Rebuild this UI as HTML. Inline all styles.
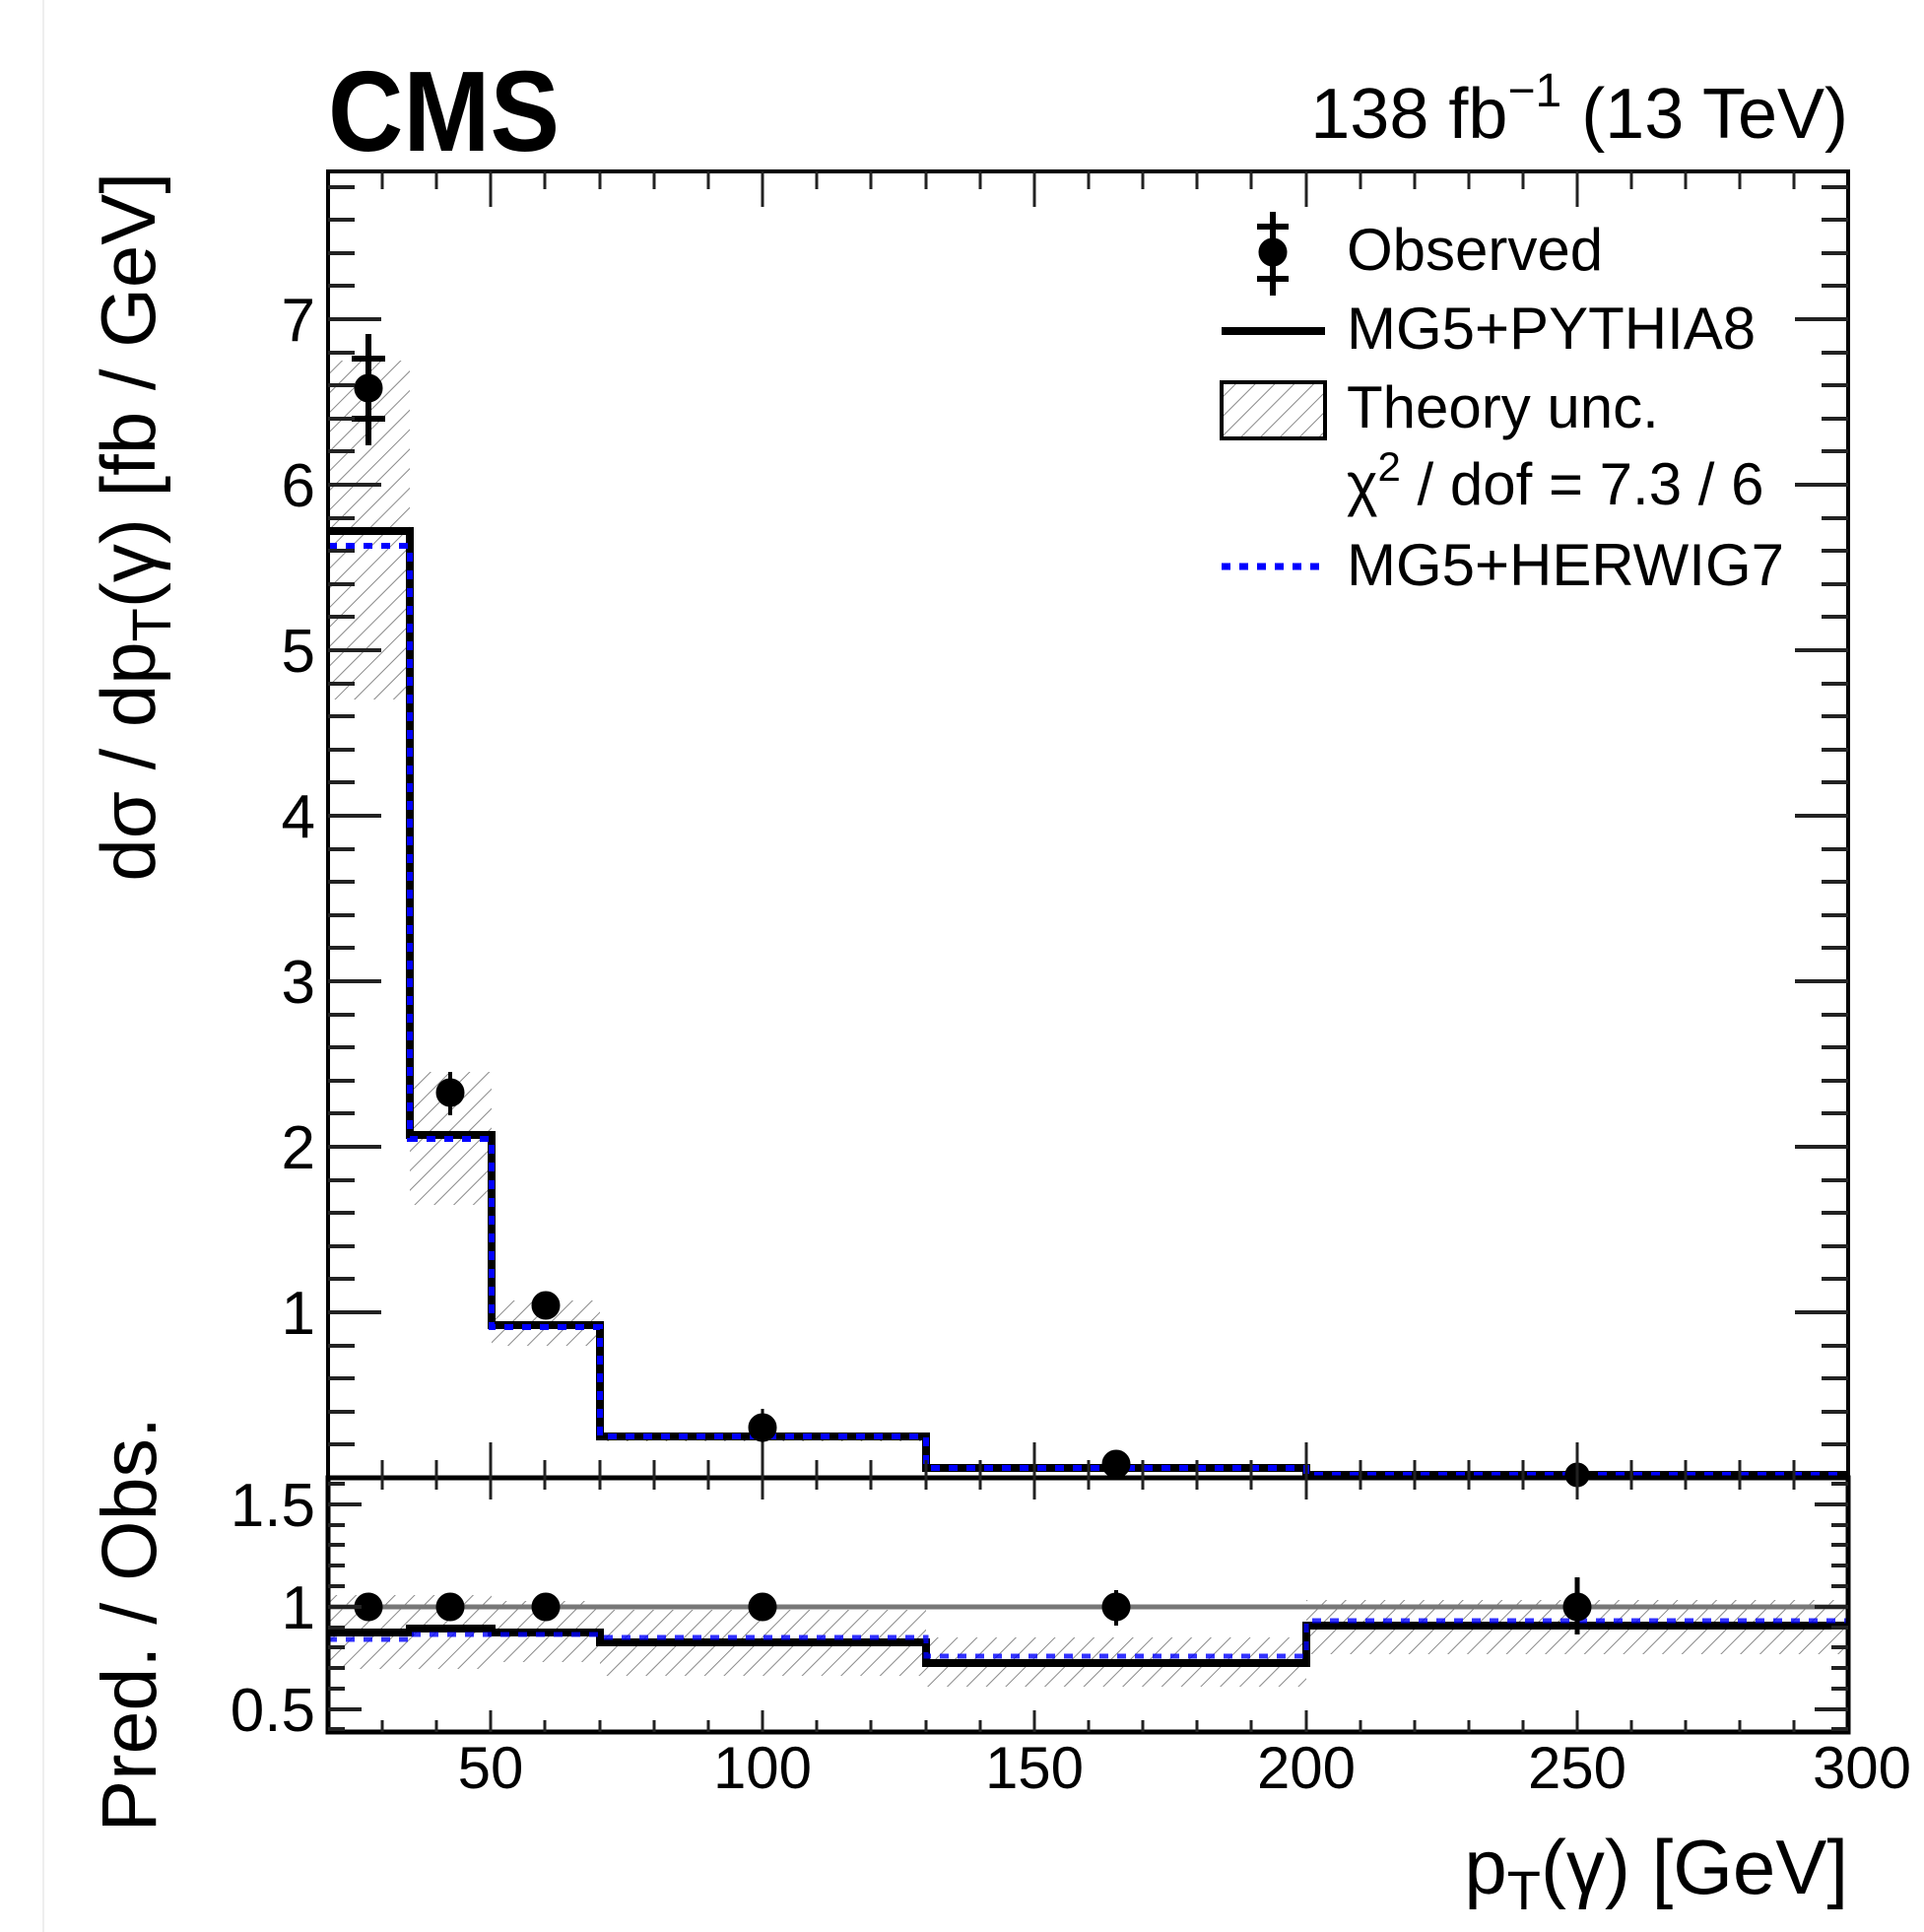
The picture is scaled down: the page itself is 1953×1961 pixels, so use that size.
<!DOCTYPE html>
<html><head><meta charset="utf-8"><style>html,body{margin:0;padding:0;background:#fff}svg{display:block}</style></head>
<body>
<svg width="1953" height="1961" viewBox="0 0 1953 1961" xmlns="http://www.w3.org/2000/svg" font-family="Liberation Sans, Arial, sans-serif">
<defs>
<pattern id="h" patternUnits="userSpaceOnUse" width="14" height="14" patternTransform="rotate(45)">
<line x1="0" y1="0" x2="0" y2="14" stroke="#8a8a8a" stroke-width="2"/>
</pattern>
</defs>
<rect width="1953" height="1961" fill="#fff"/>
<line x1="44" y1="0" x2="44" y2="1961" stroke="#eee" stroke-width="2"/>

<!-- Upper panel: x px = 333 + (x-20)*5.511 ; y px = 1500 - 168*v -->
<!-- theory bands -->
<g fill="url(#h)">
<rect x="333" y="366" width="83" height="344"/>
<rect x="416" y="1088" width="83" height="135"/>
<rect x="499" y="1320" width="110" height="46"/>
<rect x="609" y="1454" width="331" height="9"/>
<rect x="940" y="1488" width="386" height="4"/>
<!-- lower -->
<rect x="333" y="1619" width="166" height="75"/>
<rect x="499" y="1625" width="110" height="62"/>
<rect x="609" y="1634" width="331" height="67"/>
<rect x="940" y="1662" width="386" height="50"/>
<rect x="1326" y="1624" width="550" height="55"/>
</g>

<!-- Pythia upper -->
<path d="M333,539 H416 V1152 H499 V1345 H609 V1458 H940 V1490 H1326 V1497 H1876" fill="none" stroke="#000" stroke-width="8"/>
<path d="M333,554 H416 V1156 H499 V1347 H609 V1458 H940 V1490 H1326 V1497 H1876" fill="none" stroke="#0000ff" stroke-width="6" stroke-dasharray="9,9"/>

<!-- data upper -->
<g fill="#000" stroke="#000">
<line x1="374" y1="339" x2="374" y2="452" stroke-width="6"/>
<line x1="357" y1="364" x2="391" y2="364" stroke-width="6"/>
<line x1="357" y1="425" x2="391" y2="425" stroke-width="6"/>
<circle cx="374" cy="394" r="14"/>
<line x1="457" y1="1088" x2="457" y2="1132" stroke-width="4"/>
<circle cx="457" cy="1109" r="14"/>
<circle cx="554" cy="1325" r="14"/>
<line x1="774" y1="1430" x2="774" y2="1464" stroke-width="3"/>
<circle cx="774" cy="1449" r="14"/>
<circle cx="1133" cy="1486" r="14"/>
<line x1="1601" y1="1480" x2="1601" y2="1500" stroke-width="3"/>
<circle cx="1601" cy="1497" r="12"/>
</g>

<!-- lower panel lines -->
<line x1="333" y1="1631" x2="1876" y2="1631" stroke="#777" stroke-width="5"/>
<path d="M333,1657 H416 V1653 H499 V1657 H609 V1667 H940 V1688 H1326 V1650 H1876" fill="none" stroke="#000" stroke-width="8"/>
<path d="M333,1664 H416 V1659 H499 V1659 H609 V1662 H940 V1681 H1326 V1645 H1876" fill="none" stroke="#0000ff" stroke-width="5" stroke-dasharray="9,9" opacity="0.8"/>
<g fill="#000" stroke="#000">
<circle cx="374" cy="1631" r="14"/>
<circle cx="457" cy="1631" r="14"/>
<circle cx="554" cy="1631" r="14"/>
<circle cx="774" cy="1631" r="14"/>
<line x1="1133" y1="1614" x2="1133" y2="1650" stroke-width="4"/>
<circle cx="1133" cy="1631" r="14"/>
<line x1="1601" y1="1601" x2="1601" y2="1659" stroke-width="5"/>
<circle cx="1601" cy="1631" r="14"/>
</g>

<!-- frames -->
<rect x="333" y="174" width="1543" height="1326" fill="none" stroke="#000" stroke-width="4"/>
<rect x="333" y="1500" width="1543" height="258" fill="none" stroke="#000" stroke-width="5"/>

<!-- x ticks -->
<g stroke="#222" stroke-width="3">
<path d="M388,174v18M443,174v18M498,174v36M553,174v18M609,174v18M664,174v18M719,174v18M774,174v36M829,174v18M884,174v18M940,174v18M995,174v18M1050,174v36M1105,174v18M1160,174v18M1215,174v18M1270,174v18M1326,174v36M1381,174v18M1436,174v18M1491,174v18M1546,174v18M1601,174v36M1656,174v18M1711,174v18M1766,174v18M1821,174v18"/>
<path d="M388,1500v-18M443,1500v-18M498,1500v-36M553,1500v-18M609,1500v-18M664,1500v-18M719,1500v-18M774,1500v-36M829,1500v-18M884,1500v-18M940,1500v-18M995,1500v-18M1050,1500v-36M1105,1500v-18M1160,1500v-18M1215,1500v-18M1270,1500v-18M1326,1500v-36M1381,1500v-18M1436,1500v-18M1491,1500v-18M1546,1500v-18M1601,1500v-36M1656,1500v-18M1711,1500v-18M1766,1500v-18M1821,1500v-18"/>
<path d="M388,1500v12M443,1500v12M498,1500v22M553,1500v12M609,1500v12M664,1500v12M719,1500v12M774,1500v22M829,1500v12M884,1500v12M940,1500v12M995,1500v12M1050,1500v22M1105,1500v12M1160,1500v12M1215,1500v12M1270,1500v12M1326,1500v22M1381,1500v12M1436,1500v12M1491,1500v12M1546,1500v12M1601,1500v22M1656,1500v12M1711,1500v12M1766,1500v12M1821,1500v12"/>
<path d="M388,1758v-12M443,1758v-12M498,1758v-22M553,1758v-12M609,1758v-12M664,1758v-12M719,1758v-12M774,1758v-22M829,1758v-12M884,1758v-12M940,1758v-12M995,1758v-12M1050,1758v-22M1105,1758v-12M1160,1758v-12M1215,1758v-12M1270,1758v-12M1326,1758v-22M1381,1758v-12M1436,1758v-12M1491,1758v-12M1546,1758v-12M1601,1758v-22M1656,1758v-12M1711,1758v-12M1766,1758v-12M1821,1758v-12"/>
</g>
<!-- y ticks upper: 0.2 step = 33.6px -->
<g stroke="#222" stroke-width="4" id="yt">
<path d="M333,1466h27M333,1433h27M333,1399h27M333,1366h27M333,1332h54M333,1298h27M333,1265h27M333,1231h27M333,1198h27M333,1164h54M333,1130h27M333,1097h27M333,1063h27M333,1030h27M333,996h54M333,962h27M333,929h27M333,895h27M333,862h27M333,828h54M333,794h27M333,761h27M333,727h27M333,694h27M333,660h54M333,626h27M333,593h27M333,559h27M333,526h27M333,492h54M333,458h27M333,425h27M333,391h27M333,358h27M333,324h54M333,290h27M333,257h27M333,223h27M333,190h27"/>
<path d="M1876,1466h-27M1876,1433h-27M1876,1399h-27M1876,1366h-27M1876,1332h-54M1876,1298h-27M1876,1265h-27M1876,1231h-27M1876,1198h-27M1876,1164h-54M1876,1130h-27M1876,1097h-27M1876,1063h-27M1876,1030h-27M1876,996h-54M1876,962h-27M1876,929h-27M1876,895h-27M1876,862h-27M1876,828h-54M1876,794h-27M1876,761h-27M1876,727h-27M1876,694h-27M1876,660h-54M1876,626h-27M1876,593h-27M1876,559h-27M1876,526h-27M1876,492h-54M1876,458h-27M1876,425h-27M1876,391h-27M1876,358h-27M1876,324h-54M1876,290h-27M1876,257h-27M1876,223h-27M1876,190h-27"/>
<!-- lower y ticks: 0.1 = 20.8px ; 1 at 1631 -->
<path d="M333,1755h17M333,1735h34M333,1714h17M333,1693h17M333,1672h17M333,1652h17M333,1631h34M333,1610h17M333,1589h17M333,1568h17M333,1548h17M333,1527h34M333,1506h17"/>
<path d="M1876,1755h-17M1876,1735h-34M1876,1714h-17M1876,1693h-17M1876,1672h-17M1876,1652h-17M1876,1631h-34M1876,1610h-17M1876,1589h-17M1876,1568h-17M1876,1548h-17M1876,1527h-34M1876,1506h-17"/>
</g>

<!-- tick labels -->
<g font-size="62" fill="#000" text-anchor="end">
<text x="320" y="346">7</text>
<text x="320" y="514">6</text>
<text x="320" y="682">5</text>
<text x="320" y="850">4</text>
<text x="320" y="1018">3</text>
<text x="320" y="1186">2</text>
<text x="320" y="1354">1</text>
<text x="320" y="1549">1.5</text>
<text x="320" y="1653">1</text>
<text x="320" y="1757">0.5</text>
</g>
<g font-size="60" fill="#000" text-anchor="middle">
<text x="498" y="1815">50</text>
<text x="774" y="1815">100</text>
<text x="1050" y="1815">150</text>
<text x="1326" y="1815">200</text>
<text x="1601" y="1815">250</text>
<text x="1890" y="1815">300</text>
</g>

<!-- titles -->
<text x="333" y="153" font-size="116" font-weight="bold" textLength="235" lengthAdjust="spacingAndGlyphs">CMS</text>
<text x="1876" y="140" font-size="72" text-anchor="end">138 fb<tspan font-size="48" dy="-32">−1</tspan><tspan dy="32"> (13 TeV)</tspan></text>
<text x="1876" y="1922" font-size="78" text-anchor="end">p<tspan font-size="56" dy="16">T</tspan><tspan dy="-16">(γ) [GeV]</tspan></text>
<text transform="translate(157,175) rotate(-90)" font-size="78" text-anchor="end">dσ / dp<tspan font-size="56" dy="16">T</tspan><tspan dy="-16">(γ) [fb / GeV]</tspan></text>
<text transform="translate(158,1438) rotate(-90)" font-size="79" text-anchor="end">Pred. / Obs.</text>

<!-- legend -->
<g stroke="#000">
<line x1="1292" y1="215" x2="1292" y2="300" stroke-width="6"/>
<line x1="1276" y1="230" x2="1308" y2="230" stroke-width="6"/>
<line x1="1276" y1="283" x2="1308" y2="283" stroke-width="6"/>
<circle cx="1292" cy="256" r="14" fill="#000"/>
<line x1="1240" y1="336" x2="1345" y2="336" stroke-width="8"/>
<rect x="1240" y="388" width="105" height="57" fill="url(#h)" stroke-width="4"/>
<line x1="1240" y1="575" x2="1345" y2="575" stroke="#0000ff" stroke-width="7" stroke-dasharray="9,9"/>
</g>
<g font-size="60" fill="#000">
<text x="1367" y="274">Observed</text>
<text x="1367" y="354">MG5+PYTHIA8</text>
<text x="1367" y="434">Theory unc.</text>
<text x="1367" y="512">χ<tspan font-size="42" dy="-24">2</tspan><tspan dy="24"> / dof = 7.3 / 6</tspan></text>
<text x="1367" y="594">MG5+HERWIG7</text>
</g>
</svg>
</body></html>
